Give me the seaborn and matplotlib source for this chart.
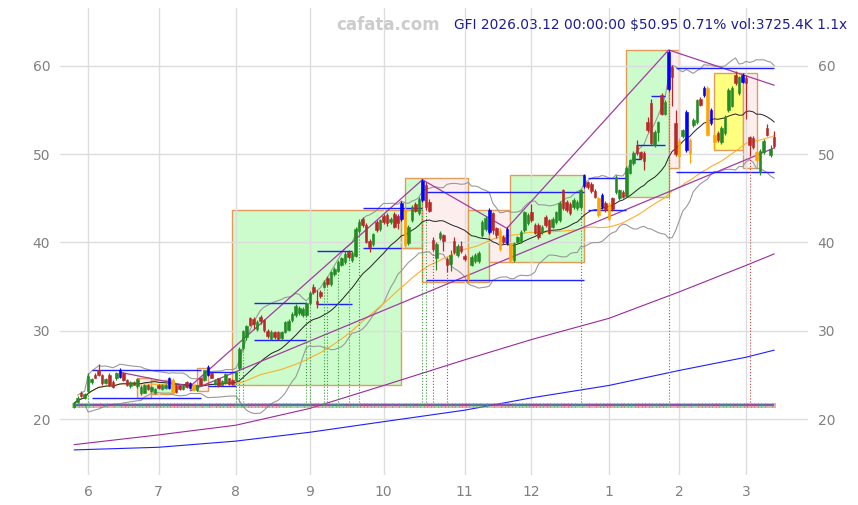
import numpy as np
import pandas as pd
import matplotlib
matplotlib.use("Agg")
import matplotlib.pyplot as plt
from matplotlib.patches import Rectangle
import seaborn as sns

# daily candles, 2025-05-27 .. 2026-03-12, x = trading-day index
opens = [21.4, 21.9, 23.0, 22.4, 23.2, 24.2, 25.0, 25.6, 25.0, 24.1, 25.0, 24.2, 24.6, 24.8, 25.2, 24.4, 23.7, 24.2, 23.7, 22.9,
         23.0, 23.9, 23.2, 22.9, 23.9, 23.4, 23.5, 23.5, 24.4, 23.8, 23.8, 23.4, 24.2, 23.5, 23.9, 23.3, 24.6, 24.4, 25.0, 25.2,
         24.0, 24.6, 23.9, 24.1, 24.6, 24.4, 24.4, 25.8, 28.0, 29.3, 31.4, 31.3, 30.2, 31.6, 31.2, 30.0, 29.1, 29.8, 29.9, 29.2,
         29.9, 30.1, 31.2, 31.8, 32.0, 31.8, 31.8, 33.1, 35.0, 33.4, 34.4, 35.0, 36.0, 35.3, 36.4, 36.8, 37.5, 37.8, 38.9, 38.0,
         38.5, 41.3, 42.7, 42.0, 40.2, 39.8, 42.3, 41.5, 43.0, 43.1, 42.3, 43.2, 43.0, 42.6, 43.8, 39.9, 42.5, 44.4, 43.3, 44.8,
         46.5, 44.6, 40.3, 38.2, 40.5, 40.8, 38.1, 37.6, 40.2, 38.6, 39.6, 38.5, 36.4, 37.5, 37.9, 37.9, 40.8, 41.5, 41.2, 43.3,
         41.6, 41.3, 40.6, 39.9, 39.9, 38.0, 40.0, 40.1, 41.4, 42.2, 43.4, 42.0, 42.0, 41.2, 42.9, 42.5, 41.8, 42.3, 42.5, 45.9,
         44.6, 44.4, 44.0, 43.9, 44.0, 46.4, 46.8, 46.6, 45.8, 45.0, 44.0, 44.5, 44.4, 45.0, 45.7, 45.0, 45.7, 45.3, 47.9, 49.0,
         51.0, 50.2, 50.1, 53.6, 55.8, 51.0, 52.5, 56.7, 54.6, 57.4, 59.9, 53.5, 51.5, 52.0, 50.5, 51.6, 53.3, 53.6, 56.3, 56.7,
         57.5, 53.5, 52.2, 52.4, 51.4, 52.4, 55.0, 55.5, 59.0, 56.9, 58.2, 58.6, 51.9, 51.8, 50.2, 48.0, 50.2, 53.0, 49.9, 51.9]
highs = [21.9, 22.6, 23.2, 22.9, 25.2, 24.7, 25.2, 26.2, 25.1, 24.7, 25.2, 24.4, 25.3, 25.8, 25.3, 24.5, 24.3, 24.3, 24.6, 23.8,
         24.0, 24.0, 23.7, 23.5, 24.0, 24.0, 24.0, 24.8, 24.6, 23.9, 23.9, 23.9, 24.3, 24.2, 24.0, 23.9, 24.7, 25.6, 26.1, 25.3,
         24.5, 24.7, 24.4, 25.2, 24.7, 24.5, 25.4, 28.1, 30.1, 30.7, 31.6, 31.5, 31.2, 31.8, 31.3, 30.2, 30.1, 30.0, 30.0, 30.0,
         31.1, 31.3, 32.1, 33.0, 32.8, 32.7, 33.2, 34.5, 35.3, 34.6, 34.6, 35.7, 36.2, 36.8, 37.2, 38.0, 38.4, 39.0, 39.1, 39.0,
         41.7, 42.6, 42.9, 42.2, 40.4, 41.1, 42.5, 42.7, 43.2, 43.3, 42.9, 43.4, 43.2, 44.7, 44.0, 42.0, 44.2, 44.6, 45.1, 47.2,
         46.8, 44.9, 40.6, 40.1, 41.3, 41.0, 38.3, 39.1, 40.6, 39.8, 40.2, 38.7, 36.6, 38.6, 38.8, 39.0, 42.5, 43.0, 43.9, 43.5,
         41.8, 41.6, 40.8, 41.8, 40.1, 40.1, 40.7, 41.4, 43.6, 43.3, 44.4, 42.2, 42.2, 42.0, 43.1, 42.7, 42.9, 43.6, 44.7, 46.1,
         44.8, 44.6, 45.0, 44.8, 46.1, 47.8, 47.0, 46.8, 46.0, 45.2, 45.6, 44.7, 44.6, 45.2, 47.6, 46.1, 45.9, 48.6, 49.5, 50.3,
         51.6, 50.4, 50.3, 54.2, 56.2, 52.7, 53.8, 56.9, 56.1, 61.8, 60.1, 55.0, 51.8, 52.9, 55.0, 51.8, 54.1, 56.3, 56.5, 57.7,
         57.7, 55.2, 52.4, 52.6, 53.2, 54.4, 57.5, 57.7, 59.4, 58.9, 59.2, 59.0, 52.1, 52.0, 50.4, 50.6, 51.7, 53.4, 51.0, 52.6]
lows = [21.3, 21.8, 22.5, 22.3, 23.0, 24.0, 24.6, 24.9, 23.9, 24.0, 23.7, 23.5, 24.4, 24.7, 24.3, 23.7, 23.5, 23.8, 23.5, 22.7,
        22.9, 23.3, 23.1, 22.8, 23.4, 23.3, 23.4, 23.4, 22.8, 23.0, 23.3, 23.3, 23.5, 23.4, 23.2, 23.2, 23.8, 24.3, 24.9, 24.6,
        23.9, 23.6, 23.8, 24.0, 23.9, 23.9, 24.3, 25.6, 27.8, 29.0, 30.5, 30.2, 30.0, 30.8, 29.9, 29.2, 29.0, 29.1, 29.0, 29.0,
        29.7, 30.0, 31.0, 31.5, 31.8, 31.5, 31.6, 32.9, 34.2, 32.6, 33.7, 34.8, 35.1, 35.1, 36.2, 36.6, 37.3, 37.6, 38.1, 37.8,
        38.3, 41.1, 41.8, 39.9, 38.9, 39.6, 41.2, 41.3, 42.1, 41.9, 42.1, 41.6, 41.5, 42.4, 39.4, 39.7, 42.3, 43.4, 43.1, 44.6,
        43.7, 43.4, 39.0, 36.9, 40.3, 39.0, 36.6, 36.8, 38.7, 38.4, 38.8, 37.9, 35.6, 37.3, 37.7, 37.7, 40.6, 41.3, 41.0, 41.0,
        40.5, 39.0, 39.8, 39.7, 37.8, 37.8, 39.8, 39.9, 41.2, 42.0, 42.3, 40.9, 40.4, 41.0, 41.8, 40.9, 41.6, 42.1, 42.3, 43.7,
        43.5, 43.1, 43.8, 43.7, 43.8, 46.2, 46.1, 45.6, 45.0, 42.9, 43.8, 43.5, 42.4, 43.6, 45.5, 44.8, 45.0, 45.1, 47.7, 48.8,
        49.9, 49.4, 48.2, 52.5, 51.0, 50.8, 51.5, 54.4, 54.4, 57.2, 55.5, 49.8, 48.4, 51.8, 50.2, 49.0, 53.1, 53.4, 55.4, 56.5,
        52.0, 53.3, 50.6, 51.4, 51.2, 52.2, 54.8, 55.3, 57.8, 56.7, 58.0, 54.0, 49.8, 50.6, 49.1, 47.6, 50.0, 52.0, 49.7, 50.7]
closes = [21.8, 22.4, 22.6, 22.8, 24.9, 24.5, 24.7, 25.0, 24.1, 24.5, 23.9, 23.6, 25.2, 25.5, 24.4, 23.8, 24.2, 23.9, 24.5, 23.6,
          23.9, 23.4, 23.6, 23.4, 23.5, 23.9, 23.9, 24.6, 22.9, 23.1, 23.4, 23.8, 23.6, 24.1, 23.3, 23.8, 23.9, 25.5, 25.9, 24.7,
          24.4, 23.7, 24.3, 25.1, 24.0, 24.0, 25.3, 27.9, 30.0, 30.5, 30.7, 30.8, 31.0, 31.1, 30.1, 29.4, 29.9, 29.3, 29.1, 29.8,
          31.0, 31.1, 31.9, 32.8, 32.6, 32.5, 33.1, 34.3, 34.4, 33.0, 33.9, 35.5, 35.3, 36.6, 37.0, 37.8, 38.2, 38.7, 38.3, 38.8,
          41.5, 42.3, 42.0, 40.1, 39.5, 40.9, 41.4, 42.5, 42.3, 42.2, 42.7, 41.8, 42.2, 44.5, 39.7, 41.8, 44.0, 43.6, 44.9, 47.0,
          44.0, 43.6, 39.3, 39.8, 41.1, 40.2, 37.5, 38.6, 38.9, 39.6, 39.0, 38.1, 35.9, 38.4, 38.6, 38.8, 42.3, 42.8, 43.7, 41.4,
          40.8, 39.3, 40.0, 41.5, 38.0, 39.9, 40.6, 41.2, 43.4, 43.1, 42.5, 41.1, 40.6, 41.8, 42.0, 41.1, 42.7, 43.4, 44.5, 43.9,
          43.7, 43.3, 44.8, 44.6, 45.9, 47.6, 46.3, 45.8, 45.2, 43.1, 45.4, 43.7, 42.6, 43.8, 47.4, 45.9, 45.2, 48.4, 49.3, 50.1,
          50.1, 49.6, 49.2, 52.7, 51.3, 52.5, 53.6, 54.6, 55.9, 61.6, 58.7, 50.0, 49.8, 52.7, 54.8, 50.1, 53.9, 56.1, 55.6, 57.5,
          52.2, 55.0, 51.4, 51.6, 53.0, 54.2, 57.3, 57.5, 58.0, 58.7, 59.0, 58.1, 51.0, 50.8, 49.3, 50.4, 51.5, 52.2, 50.6, 50.95]
# signal candles drawn in blue / orange instead of green / red
blue_days = [13, 27, 33, 38, 93, 99, 118, 123, 145, 150, 169, 174, 179, 181, 190]
orange_days = [28, 34, 94, 112, 121, 124, 149, 152, 172, 175, 180, 182, 194]
month_ticks = [4, 24, 46, 67, 88, 111, 130, 152, 172, 191]
month_labels = ["6", "7", "8", "9", "10", "11", "12", "1", "2", "3"]

# long moving averages at month starts
long_idx = [0, 24, 46, 67, 88, 111, 130, 152, 172, 191, 199]
ma_purple = [17.1, 18.2, 19.3, 21.2, 23.8, 26.7, 29.0, 31.4, 34.4, 37.4, 38.7]
ma_blue = [16.5, 16.8, 17.5, 18.5, 19.7, 21.0, 22.4, 23.8, 25.5, 27.0, 27.8]

# zones: (start idx, end idx, low, high, fill)
zones = [(18, 22, 22.4, 24.6, "#fdebe0"), (22, 28, 22.8, 24.4, "#ccfccc"), (35, 38, 23.2, 25.8, "#fdeeee"),
         (45, 93, 23.8, 43.7, "#ccfccc"), (94, 99, 39.4, 47.3, "#ccfccc"), (99, 112, 35.5, 47.3, "#fdeeee"),
         (112, 118, 35.5, 43.7, "#ccfccc"), (118, 124, 37.8, 43.7, "#fdeeee"), (124, 145, 37.8, 47.6, "#ccfccc"),
         (157, 169, 45.1, 61.8, "#ccfccc"), (169, 172, 48.4, 61.8, "#fdeeee"), (182, 190, 50.5, 59.2, "#ffff80"),
         (190, 194, 48.4, 59.2, "#fdeeee")]
# blue support / resistance segments: (start idx, end idx, price)
levels = [(5, 36, 25.5), (5, 36, 22.4), (38, 46, 25.3), (38, 46, 23.7), (51, 66, 33.1), (51, 66, 29.0),
          (69, 79, 39.0), (69, 79, 33.0), (82, 99, 43.9), (82, 93, 39.4), (100, 145, 45.7), (100, 145, 35.7),
          (146, 157, 47.3), (146, 157, 43.7), (164, 168, 56.6), (160, 168, 51.0), (159, 161, 49.4),
          (171, 199, 59.8), (171, 199, 48.0)]
zig_idx = [13, 33, 99, 123, 169, 199]
zig_price = [25.3, 23.7, 47.1, 41.6, 61.8, 57.8]
trend_idx = [33, 199]
trend_price = [23.2, 50.7]
green_marks = [4, 46, 47, 48, 66, 67, 71, 72, 75, 78, 81, 99, 100, 144, 169]
red_marks = [102, 106, 192]

df = pd.DataFrame({"o": opens, "h": highs, "l": lows, "c": closes})
df["i"] = np.arange(len(df))
df["ma20"] = df["c"].rolling(20, min_periods=1).mean()
sd = df["c"].rolling(20, min_periods=2).std(ddof=0)
df["bb_up"] = df["ma20"] + 2 * sd
df["bb_dn"] = df["ma20"] - 2 * sd
df["ma50"] = df["c"].rolling(50, min_periods=1).mean()

sns.set_style("white")
plt.rcParams["font.family"] = ["DejaVu Sans"]

fig = plt.figure(figsize=(8.58, 5.05), dpi=100)
ax = fig.add_axes([60 / 858, 30 / 505, 748 / 858, 467 / 505])
ax.set_xlim(-4.0, 208.6)
ax.set_ylim(13.66, 66.55)

for s, e, lo, hi, fc in zones:
    ax.add_patch(Rectangle((s, lo), e - s, hi - lo, facecolor=fc, edgecolor="#e39b5b", lw=1, zorder=0.3))
ax.add_patch(Rectangle((93, 39.4), 6, 4.3, facecolor="none", edgecolor="#e39b5b", lw=1, zorder=0.3))

ax.set_axisbelow(True)
ax.grid(True, color="#dddddd", lw=1)
for sp in ax.spines.values():
    sp.set_visible(False)

# moving averages and bands
sns.lineplot(x=long_idx, y=ma_blue, color="#1f1fff", lw=0.8, ax=ax)
sns.lineplot(x=long_idx, y=ma_purple, color="#9a2a9a", lw=0.8, ax=ax)
sns.lineplot(data=df, x="i", y="bb_up", color="#999999", lw=0.8, ax=ax)
sns.lineplot(data=df, x="i", y="bb_dn", color="#999999", lw=0.8, ax=ax)
sns.lineplot(data=df, x="i", y="ma50", color="#ffae2a", lw=0.8, ax=ax)
sns.lineplot(data=df, x="i", y="ma20", color="#222222", lw=0.7, ax=ax)

# trend lines
ax.plot(zig_idx, zig_price, color="#a23ca2", lw=0.9)
ax.plot(trend_idx, trend_price, color="#a23ca2", lw=0.9)

for s, e, p in levels:
    ax.hlines(p, s, e, color="#1f1fff", lw=1)

# bottom signal row
base = 21.55
ax.hlines(base, 0, len(df) - 1, color="#1f1fff", lw=1.2, zorder=2)
up = df["c"] >= df["o"]
ax.scatter(df["i"], [base] * len(df), marker="s", s=10, c=np.where(up, "#5aa55a", "#d15a6a"),
           alpha=0.5, lw=0, zorder=3)
ax.vlines(green_marks, base, df["l"].iloc[green_marks], colors="#3a9a3a", linestyles=":", lw=0.8, zorder=2)
ax.vlines(red_marks, base, df["l"].iloc[red_marks], colors="#d04040", linestyles=":", lw=0.8, zorder=2)

# candles
cols = np.where(up, "#238b23", "#b82828").astype(object)
cols[blue_days] = "#0000ff"
cols[orange_days] = "#ffa500"
cols = list(cols)
ax.vlines(df["i"], df["l"], df["h"], colors=cols, lw=0.9, zorder=4)
body = (df["c"] - df["o"]).abs().clip(lower=0.12)
ax.bar(df["i"], body, bottom=df[["o", "c"]].min(axis=1), width=0.72, color=cols,
       edgecolor=cols, lw=0.4, zorder=5)

ax.set_xlabel("")
ax.set_ylabel("")
ax.set_xticks(month_ticks)
ax.set_xticklabels(month_labels)
ax.set_yticks([20, 30, 40, 50, 60])
ax.tick_params(axis="x", length=3, color="#888888", labelcolor="#808080", labelsize=10, pad=4)
ax.tick_params(axis="y", length=0, labelcolor="#808080", labelsize=10, pad=7, labelright=True)

fig.text(388 / 858, 1 - 25 / 505, "cafata.com", ha="center", va="center", color="#cccccc",
         fontsize=12, fontweight="bold")
fig.text(454 / 858, 1 - 25 / 505, "GFI 2026.03.12 00:00:00 $50.95 0.71% vol:3725.4K 1.1x",
         ha="left", va="center", color="#1c1c96", fontsize=9.9)

fig.savefig("out.png", dpi=100)
